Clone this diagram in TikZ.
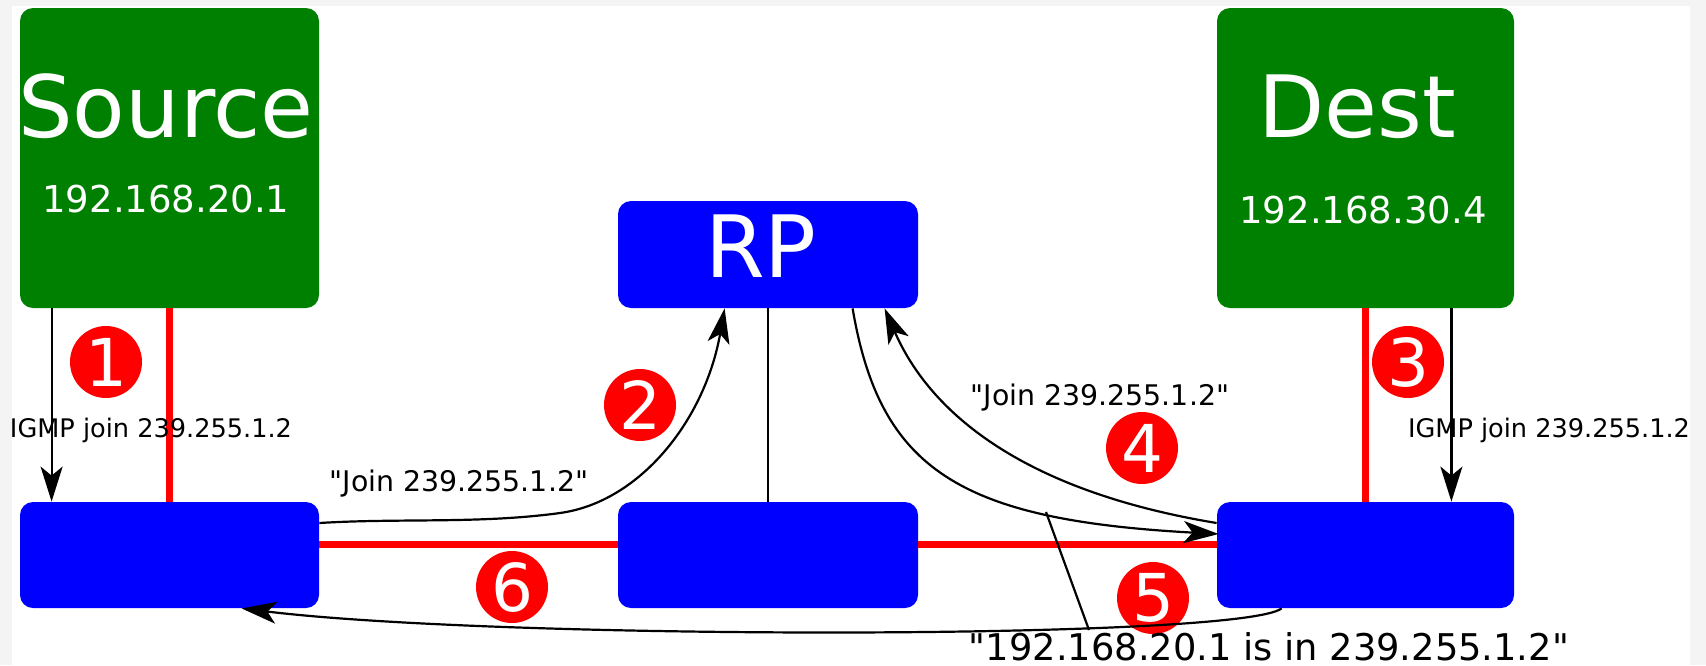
\documentclass[tikz,border=0pt]{standalone}
\usepackage{fontspec}
\setmainfont{DejaVu Sans}
\usetikzlibrary{arrows.meta,calc}
\definecolor{hostgreen}{HTML}{008000}
\definecolor{routerblue}{HTML}{0000FF}
\definecolor{markred}{HTML}{FF0000}
\definecolor{bggray}{HTML}{F4F4F4}
\newcommand{\qq}{\textquotedbl}
\begin{document}
\begin{tikzpicture}[x=0.5pt,y=-0.5pt,
  hostbox/.style={fill=hostgreen, draw=none, rounded corners=6.5pt, inner sep=0pt, minimum height=150pt},
  routerbox/.style={fill=routerblue, draw=none, rounded corners=6.5pt, inner sep=0pt, minimum height=53pt},
  stepnum/.style={circle, fill=markred, text=white, inner sep=0pt, minimum size=36pt, font=\fontsize{33}{33}\selectfont},
  bigname/.style={text=white, anchor=base, inner sep=0pt, font=\fontsize{43}{43}\selectfont},
  ipaddr/.style={text=white, anchor=base, inner sep=0pt, font=\fontsize{18.5}{18.5}\selectfont},
  msgtext/.style={anchor=base, inner sep=0pt, font=\fontsize{14.2}{14.2}\selectfont},
  igmptext/.style={anchor=base, inner sep=0pt, font=\fontsize{12.8}{12.8}\selectfont},
  redlink/.style={draw=markred, line width=3.5pt},
  flowarrow/.style={draw=black, line width=1.1pt, -{Stealth[length=17.5pt,width=11pt,inset=4.5pt]}},
  thinline/.style={draw=black, line width=1.1pt},
]
\useasboundingbox (0,0) rectangle (1706,665);
\fill[bggray] (0,0) rectangle (1706,665);
\fill[white] (12,6) rectangle (1690,665);

% boxes
\node[hostbox, minimum width=149.5pt] (src) at (169.5,158) {};
\node[hostbox, minimum width=148.5pt] (dst) at (1365.5,158) {};
\node[routerbox, minimum width=150pt, minimum height=53.5pt] (rp) at (768,254.5) {};
\node[routerbox, minimum width=149.5pt] (lr) at (169.5,555) {};
\node[routerbox, minimum width=150pt] (mr) at (768,555) {};
\node[routerbox, minimum width=148.5pt] (rr) at (1365.5,555) {};

% box texts
\node[bigname] (srcname) at (166,137) {Source};
\node[ipaddr] (srcip) at (166,212) {192.168.20.1};
\node[bigname] (dstname) at (1357,137) {Dest};
\node[ipaddr] (dstip) at (1363,223) {192.168.30.4};
\node[bigname] (rpname) at (761,277) {RP};

% red links
\draw[redlink] (src.south) -- (lr.north);
\draw[redlink] (dst.south) -- (rr.north);
\draw[redlink] ($(lr.east)+(0,-11)$) -- ($(mr.west)+(0,-11)$);
\draw[redlink] ($(mr.east)+(0,-11)$) -- ($(rr.west)+(0,-11)$);

% step numbers
\node[stepnum] (n1) at (106,362) {1};
\node[stepnum] (n2) at (640,405) {2};
\node[stepnum] (n3) at (1408,362) {3};
\node[stepnum] (n4) at (1142,448) {4};
\node[stepnum] (n5) at (1153,598) {5};
\node[stepnum] (n6) at (512,587) {6};

% black connectors
\draw[flowarrow] ($(src.south west)+(32,0)$) -- ($(lr.north west)+(32,0)$);
\draw[flowarrow] ($(dst.south east)+(-63,0)$) -- ($(rr.north east)+(-63,0)$);
\draw[thinline] (rp.south) -- (mr.north);
\draw[flowarrow] ($(lr.east)+(0,-32)$) .. controls (400,518) and (480,524) .. (560,513)
   .. controls (640,502) and (705,420) .. ($(rp.south west)+(107,0)$);
\draw[flowarrow] ($(rp.south west)+(235,0)$) .. controls (880,470) and (960,520) .. ($(rr.west)+(2,-21)$);
\draw[flowarrow] ($(rr.west)+(0,-32)$) .. controls (1023,491) and (930,413) .. ($(rp.south west)+(267,0)$);
\draw[flowarrow] ($(rr.south west)+(65,0)$) .. controls (1240,640) and (500,640) .. ($(lr.south west)+(222,0)$);
\coordinate (calloutA) at (1046,512);
\coordinate (calloutB) at (1089,630);
\draw[thinline] (calloutA) -- (calloutB);

% labels
\node[igmptext] (igmpl) at (151,437) {IGMP join 239.255.1.2};
\node[igmptext] (igmpr) at (1549,437) {IGMP join 239.255.1.2};
\node[msgtext] (joinl) at (459,491) {\qq Join 239.255.1.2\qq};
\node[msgtext] (joinr) at (1100,405) {\qq Join 239.255.1.2\qq};
\node[anchor=base, inner sep=0pt, font=\fontsize{18.4}{18.4}\selectfont] (srcmsg) at (1269,660) {\qq 192.168.20.1 is in 239.255.1.2\qq};
\end{tikzpicture}
\end{document}
